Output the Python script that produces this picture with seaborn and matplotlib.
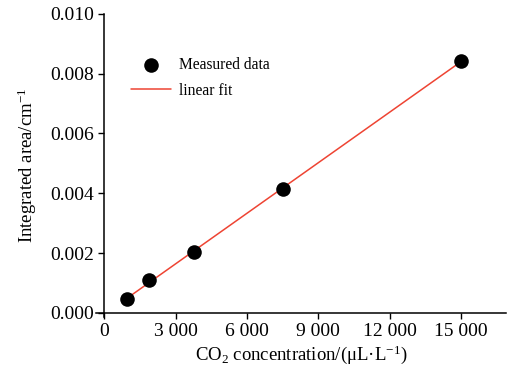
import numpy as np
import pandas as pd
import matplotlib

matplotlib.use("Agg")
import matplotlib.pyplot as plt
import seaborn as sns

# 数据
co2_ppm = [937.5, 1875, 3750, 7500, 15000]
area = [0.000469, 0.001085, 0.002022, 0.004131, 0.008426]

x_ticks = [0, 3000, 6000, 9000, 12000, 15000]
x_tick_labels = ["0", "3 000", "6 000", "9 000", "12 000", "15 000"]
y_ticks = [0.000, 0.002, 0.004, 0.006, 0.008, 0.010]
y_tick_labels = ["0.000", "0.002", "0.004", "0.006", "0.008", "0.010"]


def main():
    sns.set_theme(style="ticks")
    plt.rcParams["font.family"] = ["Liberation Serif", "DejaVu Serif"]
    plt.rcParams["mathtext.fontset"] = "custom"
    plt.rcParams["mathtext.rm"] = "Liberation Serif"

    data = pd.DataFrame({"x": co2_ppm, "y": area})

    # 线性拟合
    slope, intercept = np.polyfit(data["x"], data["y"], 1)
    fit = pd.DataFrame({"x": [data["x"].min(), data["x"].max()]})
    fit["y"] = slope * fit["x"] + intercept

    fig = plt.figure(figsize=(5.31, 3.76), dpi=100)
    ax = fig.add_axes([0.181, 0.156, 0.772, 0.807])

    sns.scatterplot(data=data, x="x", y="y", ax=ax, color="black", s=110,
                    edgecolor="black", linewidth=0, label="Measured data", zorder=3)
    sns.lineplot(data=fit, x="x", y="y", ax=ax, color="#ee4433", linewidth=1.1,
                 label="linear fit", zorder=2)

    ax.set_xlim(-350, 16900)
    ax.set_ylim(-0.00015, 0.0100)
    ax.spines["left"].set_position(("data", 0))
    ax.spines["bottom"].set_position(("data", 0))
    ax.spines["right"].set_visible(False)
    ax.spines["top"].set_visible(False)
    for sp in ("left", "bottom"):
        ax.spines[sp].set_linewidth(1.1)
        ax.spines[sp].set_color("black")

    ax.set_xticks(x_ticks)
    ax.set_xticklabels(x_tick_labels)
    ax.set_yticks(y_ticks)
    ax.set_yticklabels(y_tick_labels)
    ax.tick_params(axis="both", direction="out", length=4.5, width=1.0,
                   labelsize=14, color="black", labelcolor="black", pad=3)

    ax.set_xlabel(r"CO$\mathregular{_2}$ concentration/(μL·L$\mathregular{^{-1}}$)",
                  fontsize=13.5, color="black", labelpad=2)
    ax.set_ylabel(r"Integrated area/cm$\mathregular{^{-1}}$",
                  fontsize=13.5, color="black", labelpad=8)

    leg = ax.legend(loc="upper left", bbox_to_anchor=(0.05, 0.905), frameon=False,
                    fontsize=11.2, handlelength=2.6, handletextpad=0.5,
                    labelspacing=0.65, markerscale=1.0)
    for t in leg.get_texts():
        t.set_color("black")

    fig.savefig("out.png", dpi=100)
    plt.close(fig)


if __name__ == "__main__":
    main()
